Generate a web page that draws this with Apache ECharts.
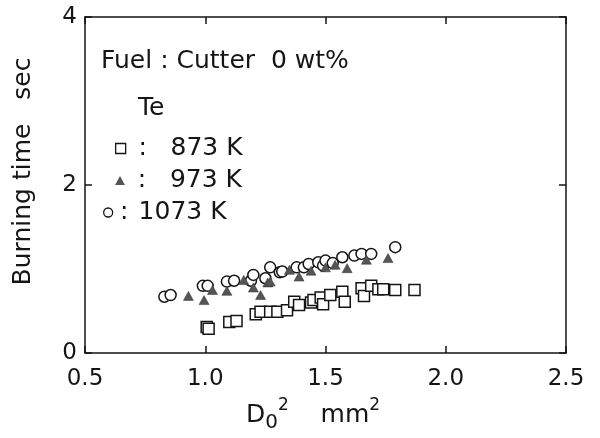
<!DOCTYPE html>
<html>
<head>
<meta charset="utf-8">
<script src="https://cdn.jsdelivr.net/npm/echarts@6/dist/echarts.min.js"></script>
<style>
html,body{margin:0;padding:0;background:#fff;}
#c{width:600px;height:438px;}
</style>
</head>
<body>
<div id="c"></div>
<script>
// ---- data ----
const xTicks = [0.5, 1.0, 1.5, 2.0, 2.5];
const yTicks = [0, 2, 4];

const names = ['873 K', '973 K', '1073 K'];

// Te = 873 K (open squares)
const d873 = [1.006, 1.014, 1.10, 1.13, 1.21, 1.23, 1.27, 1.30, 1.34, 1.37, 1.39, 1.44, 1.45, 1.48, 1.49, 1.52, 1.57, 1.58, 1.65, 1.66, 1.69, 1.72, 1.74, 1.79, 1.87];
const t873 = [0.31, 0.29, 0.37, 0.38, 0.46, 0.49, 0.49, 0.49, 0.51, 0.61, 0.57, 0.60, 0.63, 0.66, 0.58, 0.69, 0.73, 0.61, 0.77, 0.68, 0.80, 0.76, 0.76, 0.75, 0.75];

// Te = 973 K (filled triangles)
const d973 = [0.93, 0.995, 1.03, 1.09, 1.16, 1.20, 1.23, 1.26, 1.27, 1.35, 1.39, 1.44, 1.50, 1.54, 1.59, 1.67, 1.76];
const t973 = [0.68, 0.63, 0.75, 0.74, 0.87, 0.78, 0.69, 0.84, 0.85, 0.99, 0.91, 0.98, 1.02, 1.05, 1.01, 1.11, 1.13];

// Te = 1073 K (open circles)
const d1073 = [0.83, 0.856, 0.99, 1.01, 1.09, 1.12, 1.19, 1.20, 1.25, 1.27, 1.31, 1.32, 1.38, 1.41, 1.43, 1.47, 1.49, 1.50, 1.53, 1.57, 1.62, 1.65, 1.69, 1.79];
const t1073 = [0.67, 0.69, 0.80, 0.80, 0.85, 0.86, 0.86, 0.93, 0.89, 1.02, 0.96, 0.97, 1.02, 1.02, 1.06, 1.08, 1.04, 1.10, 1.07, 1.14, 1.16, 1.18, 1.18, 1.26];

function zip(a, b) { return a.map((v, i) => [v, b[i]]); }

const FONT = 'DejaVu Sans';
const INK = '#151515';

const chart = echarts.init(document.getElementById('c'), null, {renderer: 'canvas'});

const axisLine = {show: true, onZero: false, lineStyle: {color: INK, width: 1.5}};
const tick = {show: true, inside: true, length: 7, lineStyle: {color: INK, width: 1.5}};
const legText = {fontFamily: FONT, fontSize: 25, color: INK,
  rich: {
    c1: {fontFamily: FONT, fontSize: 25, color: INK, width: 24, align: 'center'},
    c3: {fontFamily: FONT, fontSize: 25, color: INK, width: 13, align: 'center'}
  }};

chart.setOption({
  animation: false,
  backgroundColor: '#fff',
  grid: {left: 85, right: 34, top: 17, bottom: 81, containLabel: false},
  title: [
    {text: 'Fuel : Cutter  0 wt%', left: 101, top: 49, padding: 0,
     textStyle: {fontFamily: FONT, fontSize: 25, fontWeight: 'normal', color: INK}},
    {text: 'Te', left: 138, top: 96, padding: 0,
     textStyle: {fontFamily: FONT, fontSize: 25, fontWeight: 'normal', color: INK}}
  ],
  legend: [
    {data: [names[0]], left: 115, top: 136, padding: 0, itemWidth: 10, itemHeight: 10,
     formatter: n => '{c1|:}  ' + n, selectedMode: false,
     itemStyle: {color: '#fff', borderColor: INK, borderWidth: 1.3},
     textStyle: legText},
    {data: [names[1]], left: 115, top: 168, padding: 0, itemWidth: 10, itemHeight: 9,
     formatter: n => '{c1|:}  ' + n, selectedMode: false,
     itemStyle: {color: '#555', borderWidth: 0},
     textStyle: legText},
    {data: [names[2]], left: 103, top: 200, padding: 0, itemWidth: 9, itemHeight: 9,
     formatter: n => '{c3|:} ' + n, selectedMode: false,
     itemStyle: {color: '#fff', borderColor: INK, borderWidth: 1.3},
     textStyle: legText}
  ],
  xAxis: [
    {type: 'value', position: 'bottom', min: xTicks[0], max: xTicks[xTicks.length - 1], interval: 0.5,
     axisLine: axisLine, axisTick: tick, splitLine: {show: false},
     axisLabel: {fontFamily: FONT, fontSize: 23, color: INK, margin: 15,
                 formatter: v => v.toFixed(1)},
     name: '{m|D}{sub|0}{sup|2}{m|    mm}{sup|2}',
     nameLocation: 'middle', nameGap: 44,
     nameTextStyle: {padding: [0, 25, 0, 0],
       rich: {
         m: {fontFamily: FONT, fontSize: 25, color: INK, lineHeight: 36, verticalAlign: 'middle'},
         sub: {fontFamily: FONT, fontSize: 20, color: INK, lineHeight: 18, verticalAlign: 'bottom'},
         sup: {fontFamily: FONT, fontSize: 17, color: INK, lineHeight: 24, verticalAlign: 'top'}
       }}},
    {type: 'value', position: 'top', min: xTicks[0], max: xTicks[xTicks.length - 1], interval: 0.5,
     axisLine: axisLine, axisTick: tick, axisLabel: {show: false}, splitLine: {show: false}}
  ],
  yAxis: [
    {type: 'value', position: 'left', min: yTicks[0], max: yTicks[yTicks.length - 1], interval: 2,
     axisLine: axisLine, axisTick: tick, splitLine: {show: false},
     axisLabel: {fontFamily: FONT, fontSize: 23, color: INK, margin: 8},
     name: 'Burning time   sec', nameLocation: 'middle', nameGap: 49, nameRotate: 90,
     nameTextStyle: {fontFamily: FONT, fontSize: 25, color: INK, padding: [0, 0, 0, 27]}},
    {type: 'value', position: 'right', min: yTicks[0], max: yTicks[yTicks.length - 1], interval: 2,
     axisLine: axisLine, axisTick: tick, axisLabel: {show: false}, splitLine: {show: false}}
  ],
  series: [
    {name: names[0], type: 'scatter', symbol: 'rect', symbolSize: 11, z: 2,
     itemStyle: {color: '#fff', borderColor: INK, borderWidth: 1.5, opacity: 1},
     data: zip(d873, t873)},
    {name: names[2], type: 'scatter', symbol: 'circle', symbolSize: 11, z: 2,
     itemStyle: {color: '#fff', borderColor: INK, borderWidth: 1.5, opacity: 1},
     data: zip(d1073, t1073)},
    {name: names[1], type: 'scatter', symbol: 'triangle', symbolSize: [10, 9], z: 3,
     itemStyle: {color: '#555', borderColor: '#333', borderWidth: 0.5, opacity: 1},
     data: zip(d973, t973)}
  ]
});
</script>
</body>
</html>
